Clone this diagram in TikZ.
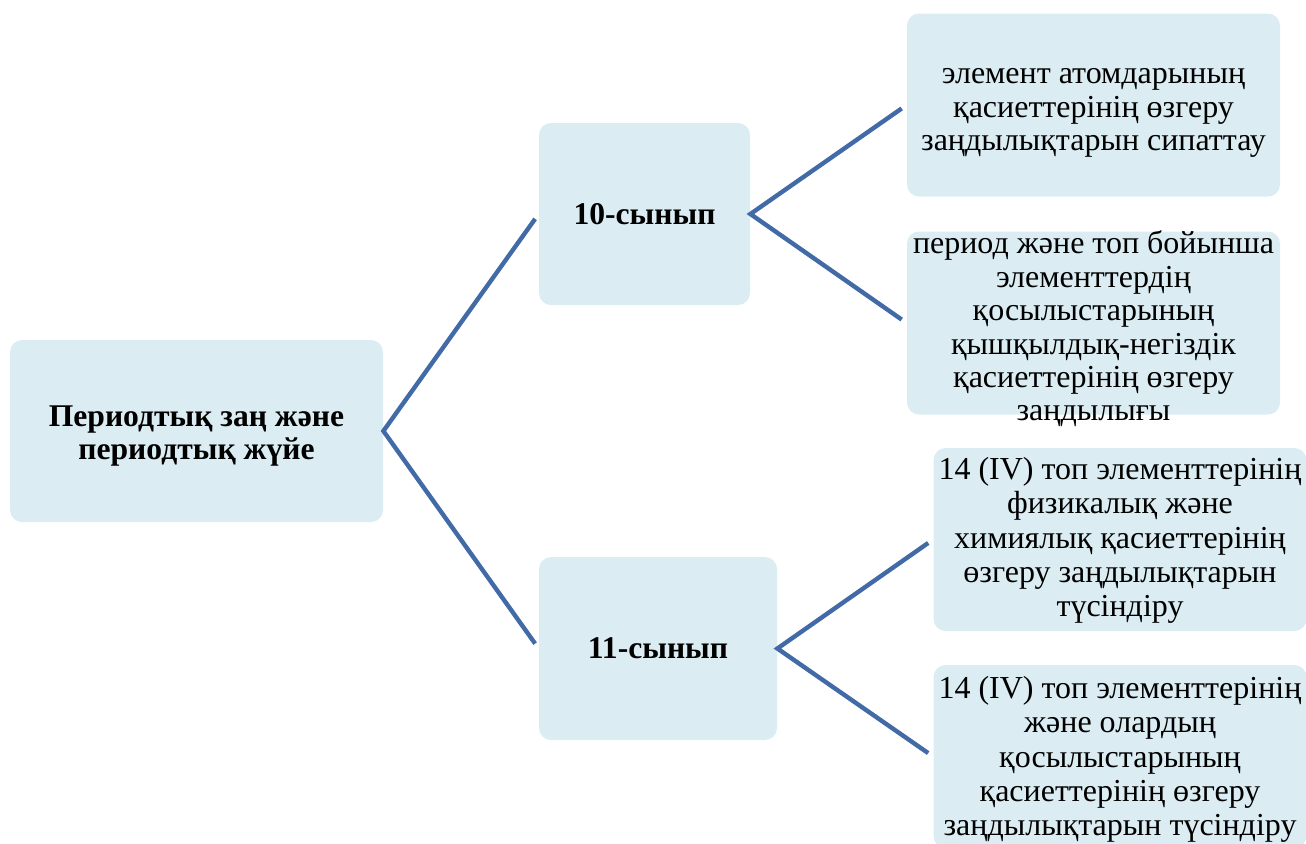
\documentclass[tikz,border=0pt]{standalone}
\usepackage{fontspec}
\setmainfont{Liberation Serif}
\definecolor{boxfill}{RGB}{219,237,243}
\definecolor{lineblue}{RGB}{66,106,166}
\tikzset{
  box/.style={fill=boxfill, draw=none, rounded corners=6pt, inner sep=0pt},
  rootbox/.style={box, minimum width=186.5pt, minimum height=91pt},
  midbox/.style={box, minimum height=91pt},
  leafbox/.style={box, minimum width=186.5pt, minimum height=91.5pt},
  btext/.style={align=center, inner sep=0pt, font=\bfseries\fontsize{15.8pt}{16.2pt}\selectfont},
  ctext/.style={align=center, inner sep=0pt, font=\bfseries\fontsize{15.8pt}{16pt}\selectfont},
  ltext/.style={align=center, inner sep=0pt, font=\fontsize{16pt}{16.7pt}\selectfont},
  ktext/.style={align=center, inner sep=0pt, font=\fontsize{16pt}{17.2pt}\selectfont},
  conn/.style={draw=lineblue, line width=2.2pt, shorten <=3pt, shorten >=3pt}
}
\begin{document}
\begin{tikzpicture}[x=0.5pt,y=-0.5pt]
\useasboundingbox (0,0) rectangle (1306,843);
\node[rootbox] (root) at (196.5,431) {};
\node[midbox, minimum width=105.5pt] (c10) at (644.5,214) {};
\node[midbox, minimum width=119pt, minimum height=91.5pt] (c11) at (658,648.5) {};
\node[leafbox] (l1) at (1093.5,105) {};
\node[leafbox] (l2) at (1093.5,323) {};
\node[leafbox] (l3) at (1120,539.5) {};
\node[leafbox] (l4) at (1120,756.5) {};

\node[btext] (troot) at ([yshift=-2.5pt]root.center) {Периодтық заң және\\периодтық жүйе};
\node[ctext] (tc10) at (c10.center) {10-сынып};
\node[ctext] (tc11) at (c11.center) {11-сынып};
\node[ltext] (tl1) at ([yshift=-4pt]l1.center) {элемент атомдарының\\қасиеттерінің өзгеру\\заңдылықтарын сипаттау};
\node[ltext] (tl2) at ([yshift=-3pt]l2.center) {период және топ бойынша\\элементтердің\\қосылыстарының\\қышқылдық-негіздік\\қасиеттерінің өзгеру\\заңдылығы};
\node[ktext] (tl3) at ([yshift=-0.5pt]l3.center) {14 (IV) топ элементтерінің\\физикалық және\\химиялық қасиеттерінің\\өзгеру заңдылықтарын\\түсіндіру};
\node[ktext] (tl4) at ([yshift=-1.5pt]l4.center) {14 (IV) топ элементтерінің\\және олардың\\қосылыстарының\\қасиеттерінің өзгеру\\заңдылықтарын түсіндіру};

\draw[conn] (c10.west) -- (root.east) -- (c11.west);
\draw[conn] (l1.west) -- (c10.east) -- (l2.west);
\draw[conn] (l3.west) -- (c11.east) -- (l4.west);
\end{tikzpicture}
\end{document}
